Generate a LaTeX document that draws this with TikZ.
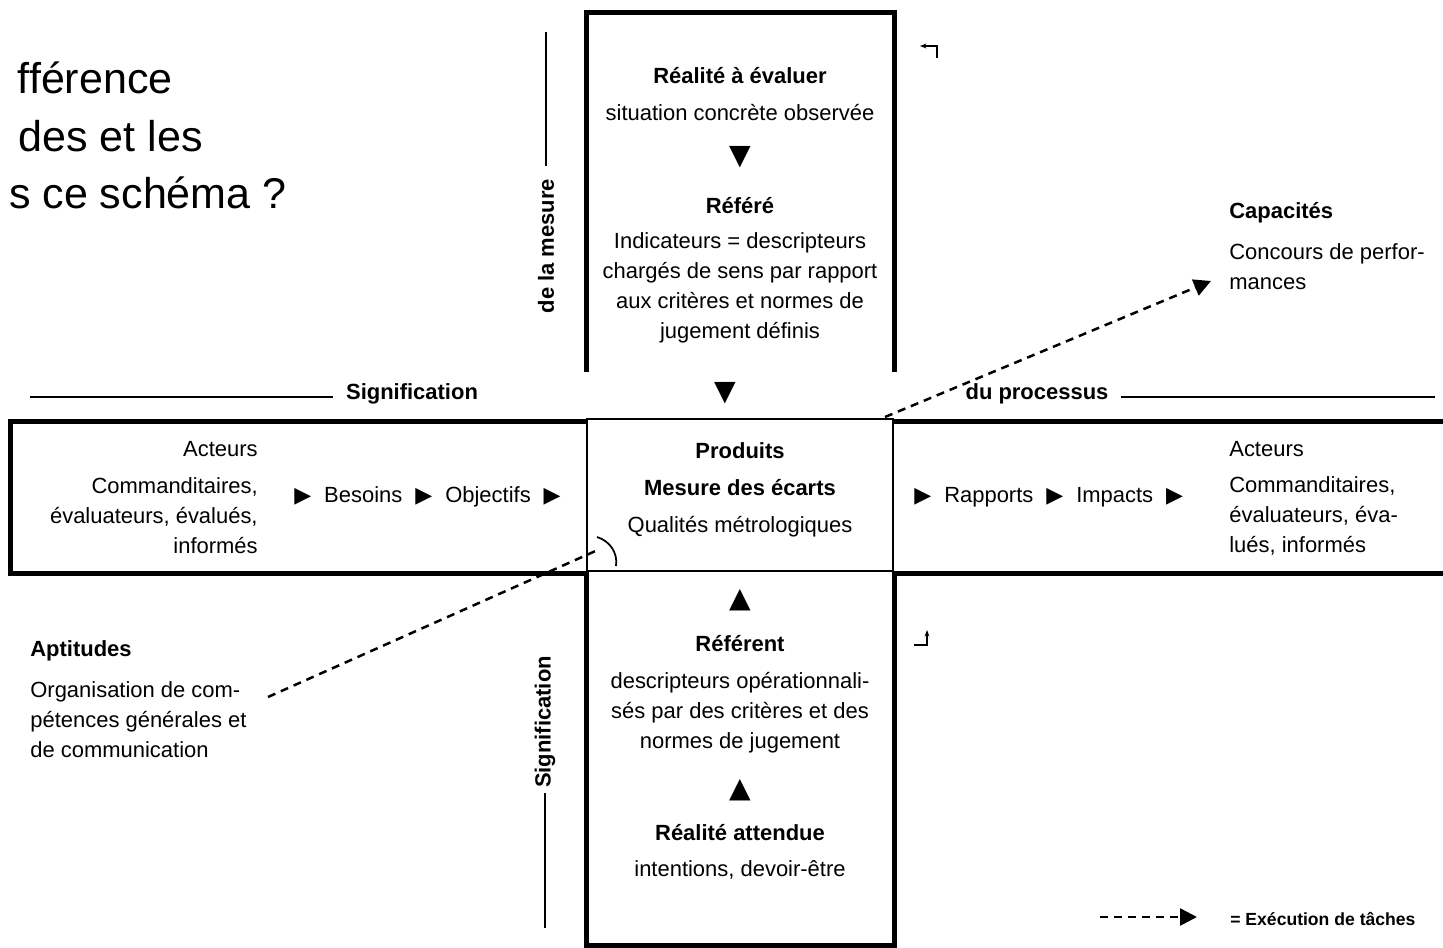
\documentclass[tikz,border=0pt]{standalone}
\usepackage{fontspec}
\setmainfont{Liberation Sans}
\newfontfamily\symb{DejaVu Sans}
\usetikzlibrary{positioning,arrows.meta}

\newcommand{\pointe}{\hspace{2.6mm}{\symb ▶}\hspace{2.6mm}}

\begin{document}
\begin{tikzpicture}[x=0.2mm,y=-0.2mm,
  txt/.style={inner sep=0pt,align=center,font=\fontsize{12.5}{17}\selectfont},
  tit/.style={inner sep=0pt,font=\bfseries\fontsize{12.5}{17}\selectfont},
  axe/.style={tit,inner xsep=2.5mm},
  grand/.style={inner sep=0pt,font=\fontsize{24.5}{33}\selectfont},
  tri/.style={inner sep=0pt,font=\symb\fontsize{16}{16}\selectfont},
  epais/.style={line width=1mm},
  fin/.style={line width=0.35mm},
  tiret/.style={line width=0.5mm,dash pattern=on 1.6mm off 1.2mm,
    -{Triangle[length=3.4mm,width=3.4mm]}}]
  \useasboundingbox (0,0) rectangle (1443,948);

  % question cut at the left edge
  \node[grand,anchor=base east] (q1) at (173,93)  {fférence};
  \node[grand,anchor=base east] (q2) at (203,151) {des et les};
  \node[grand,anchor=base east] (q3) at (287,208) {s ce schéma ?};

  % the cross
  \draw[epais] (586,372) -- (586,12) -- (894,12) -- (894,372);
  \draw[epais] (587,421) -- (10,421) -- (10,573) -- (587,573);
  \draw[epais] (893,421) -- (1450,421) (893,573) -- (1450,573);
  \draw[epais] (586,571) -- (586,945) -- (894,945) -- (894,571);
  \draw[fin] (587,419) rectangle (893,571);

  % top arm
  \node[tit] (realite) at (740,76) {Réalité à évaluer};
  \node[txt] (situation) at (740,113) {situation concrète observée};
  \node[tri] (bas1) at (740,157) {▼};
  \node[tit] (refere) at (740,206) {Référé};
  \node[txt] (indic) at (740,288) {Indicateurs = descripteurs\\chargés de sens par rapport\\aux critères et normes de\\jugement définis};
  \node[tri] (bas2) at (725,393) {▼};

  % centre
  \node[tit] (produits) at (740,451) {Produits};
  \node[tit] (ecarts) at (740,488) {Mesure des écarts};
  \node[txt] (qualites) at (740,527) {Qualités métrologiques};

  % bottom arm
  \node[tri] (haut1) at (740,600) {▲};
  \node[tit] (referent) at (740,644) {Référent};
  \node[txt] (descr) at (740,713) {descripteurs opérationnali-\\sés par des critères et des\\normes de jugement};
  \node[tri] (haut2) at (740,790) {▲};
  \node[tit] (attendue) at (740,833) {Réalité attendue};
  \node[txt] (intentions) at (740,870) {intentions, devoir-être};

  % left arm
  \node[txt,anchor=east] (acteursg) at (258,449) {Acteurs};
  \node[txt,align=right,anchor=east] (commg) at (258,516) {Commanditaires,\\évaluateurs, évalués,\\informés};
  \node[txt,anchor=west] (besoins) at (294,497) {{\symb ▶}\hspace{2.6mm}Besoins\pointe Objectifs\pointe\hspace{-2.6mm}};

  % right arm
  \node[txt,anchor=west] (rapports) at (914,497) {{\symb ▶}\hspace{2.6mm}Rapports\pointe Impacts\pointe\hspace{-2.6mm}};
  \node[txt,anchor=west] (acteursd) at (1229,449) {Acteurs};
  \node[txt,align=left,anchor=west] (commd) at (1229,516) {Commanditaires,\\évaluateurs, éva-\\lués, informés};

  % axis labels
  \node[axe] (signifg) at (412,394) {Signification};
  \coordinate (g0) at (30,397);
  \draw[fin] (g0) -- (g0 -| signifg.west);
  \node[axe] (processus) at (1037,394) {du processus};
  \coordinate (d0) at (1435,397);
  \draw[fin] (d0 -| processus.east) -- (d0);
  \node[axe,rotate=90] (mesureaxe) at (546,246) {de la mesure};
  \coordinate (m0) at (546,32);
  \draw[fin] (m0) -- (mesureaxe.east);
  \node[axe,rotate=90,inner xsep=1mm] (signifb) at (545,722) {Signification};
  \coordinate (s0) at (545,928);
  \draw[fin] (signifb.west) -- (s0);

  % small hooks
  \draw[line width=0.4mm,-{Stealth[length=1.3mm]}] (937,58) -- (937,46) -- (920,46);
  \draw[line width=0.4mm,-{Stealth[length=1.3mm]}] (914,645) -- (927,645) -- (927,630);

  % capacites
  \node[tit,anchor=west] (capacites) at (1229,213) {Capacités};
  \node[txt,align=left,anchor=west] (concours) at (1229,267) {Concours de perfor-\\mances};
  \coordinate (depart) at (885,417);
  \coordinate (capa) at (1211,281);
  \draw[tiret] (depart) -- (capa);

  % aptitudes
  \node[tit,anchor=west] (aptitudes) at (30,651) {Aptitudes};
  \node[txt,align=left,anchor=west] (organisation) at (30,720) {Organisation de com-\\pétences générales et\\de communication};
  \coordinate (apt) at (268,697);
  \coordinate (coin) at (600,549);
  \draw[line width=0.5mm,dash pattern=on 1.6mm off 1.2mm] (apt) -- (coin);
  \draw[fin] (597,537) .. controls (610,541) and (618,553) .. (616,566);

  % legend
  \node[inner sep=0pt,anchor=west,font=\bfseries\fontsize{10}{12}\selectfont] (exec) at (1230,919) {= Exécution de tâches};
  \coordinate (l0) at (1100,917);
  \draw[tiret,shorten >=6.6mm] (l0) -- (l0 -| exec.west);
\end{tikzpicture}
\end{document}
